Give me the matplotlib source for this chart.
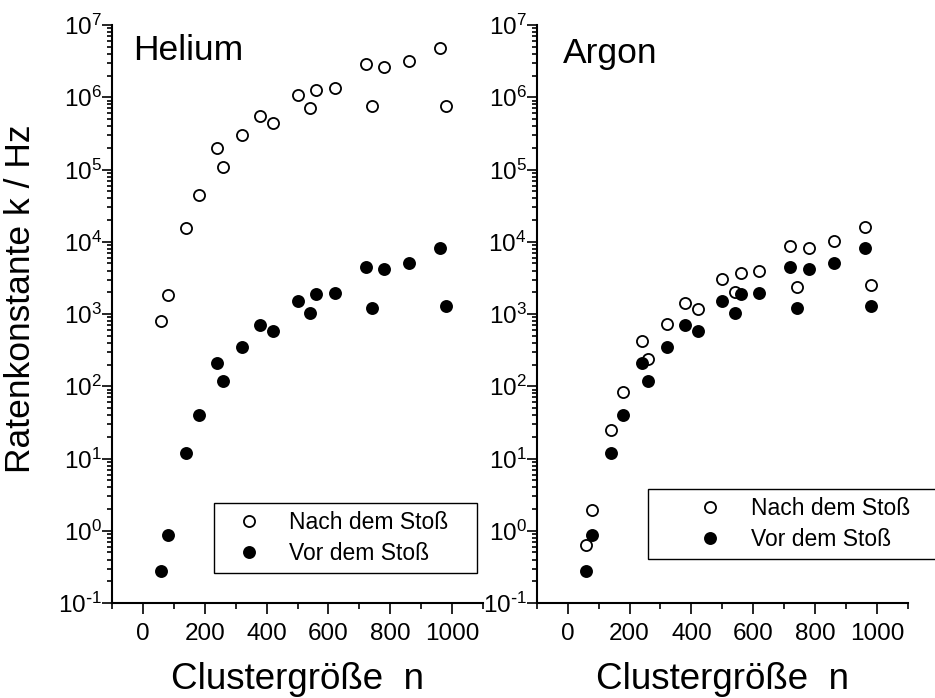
import matplotlib
matplotlib.use('Agg')
import matplotlib.pyplot as plt
import numpy as np
from matplotlib.ticker import MultipleLocator, FixedLocator, LogLocator, NullFormatter, FuncFormatter

plt.rcParams['font.family'] = ['Liberation Sans', 'DejaVu Sans']
plt.rcParams['mathtext.default'] = 'regular'

# cluster sizes (same for all series)
n = [60, 80, 140, 180, 240, 260, 320, 380, 420, 500,
     540, 560, 620, 720, 740, 780, 860, 960, 980]

# rate constants k / Hz
he_nach = [810, 1830, 15700, 45000, 200000, 108000, 300000, 550000, 445000, 1.09e6,
           7.0e5, 1.27e6, 1.33e6, 2.92e6, 7.6e5, 2.62e6, 3.14e6, 4.8e6, 7.6e5]
vor = [0.28, 0.87, 11.8, 40, 208, 118, 353, 705, 587, 1530,
       1020, 1870, 1970, 4520, 1200, 4240, 5130, 8110, 1300]
ar_nach = [0.64, 1.96, 25, 84, 427, 238, 720, 1410, 1170, 3050,
           1990, 3660, 3940, 8830, 2370, 8280, 10200, 15800, 2520]

panels = ["Helium", "Argon"]
nach_series = [he_nach, ar_nach]
legend_labels = ["Nach dem Stoß", "Vor dem Stoß"]

W, H = 935, 698
fig = plt.figure(figsize=(W / 100, H / 100), dpi=100)

ax_pos = [[112 / W, 1 - 603 / H, 371 / W, 578 / H],
          [536.7 / W, 1 - 603 / H, 371.3 / W, 578 / H]]
title_pos = [(21 / 371, 0.9394), (26.3 / 371.3, 0.935)]
# legend boxes in figure fractions: x0, top, width
leg_box = [(214.3 / W, 1 - 503.3 / H, 263 / W), (648 / W, 1 - 489 / H, 292 / W)]
leg_pad = [(2.34, 0.59), (4.7, -0.54)]


def dec_label(v, pos):
    e = int(round(np.log10(v)))
    if e < 0:
        return r'$10^{\text{-}%d}$' % (-e)
    return r'$10^{%d}$' % e


for i in range(2):
    ax = fig.add_axes(ax_pos[i])
    ax.plot(n, nach_series[i], 'o', ls='none', mfc='white', mec='black',
            ms=8, mew=1.3, label=legend_labels[0], clip_on=False)
    ax.plot(n, vor, 'o', ls='none', mfc='black', mec='black',
            ms=8, mew=1.3, label=legend_labels[1], clip_on=False)

    ax.set_yscale('log')
    ax.set_ylim(1e-1, 1e7)
    ax.set_xlim(-100, 1100)

    ax.xaxis.set_major_locator(FixedLocator([0, 200, 400, 600, 800, 1000]))
    ax.xaxis.set_minor_locator(MultipleLocator(100))
    ax.yaxis.set_major_locator(LogLocator(base=10, numticks=20))
    ax.yaxis.set_minor_locator(LogLocator(base=10, subs=np.arange(2, 10), numticks=20))
    ax.yaxis.set_minor_formatter(NullFormatter())
    ax.yaxis.set_major_formatter(FuncFormatter(dec_label))

    for s in ['top', 'right']:
        ax.spines[s].set_visible(False)
    for s in ['left', 'bottom']:
        ax.spines[s].set_linewidth(1.5)

    ax.tick_params(axis='x', which='major', direction='out', length=8, width=1.2,
                   labelsize=17.5, pad=6.5)
    ax.tick_params(axis='x', which='minor', direction='out', length=4.3, width=1.2)
    ax.tick_params(axis='y', which='major', direction='out', length=7.2, width=1.2,
                   labelsize=17.5, pad=0)
    ax.tick_params(axis='y', which='minor', direction='out', length=3.6, width=1.2)

    ax.text(title_pos[i][0], title_pos[i][1], panels[i], transform=ax.transAxes,
            fontsize=25.5, ha='left', va='baseline')

    ax.set_xlabel("Clustergröße  n", fontsize=26.5, labelpad=12)

    x0, top, w = leg_box[i]
    leg = ax.legend(loc='upper left', bbox_to_anchor=(x0, top - 0.1, w, 0.1),
                    bbox_transform=fig.transFigure, mode='expand', borderaxespad=0,
                    fontsize=16.5, numpoints=1, frameon=True, fancybox=False,
                    framealpha=1, edgecolor='black', borderpad=0.34,
                    labelspacing=0.36, handlelength=leg_pad[i][0],
                    handletextpad=leg_pad[i][1])
    leg.get_frame().set_linewidth(1.0)

fig.text(21 / W, 1 - 298.5 / H, "Ratenkonstante k / Hz", rotation=90,
         ha='center', va='center', fontsize=25.5)

fig.savefig('out.png', dpi=100)
